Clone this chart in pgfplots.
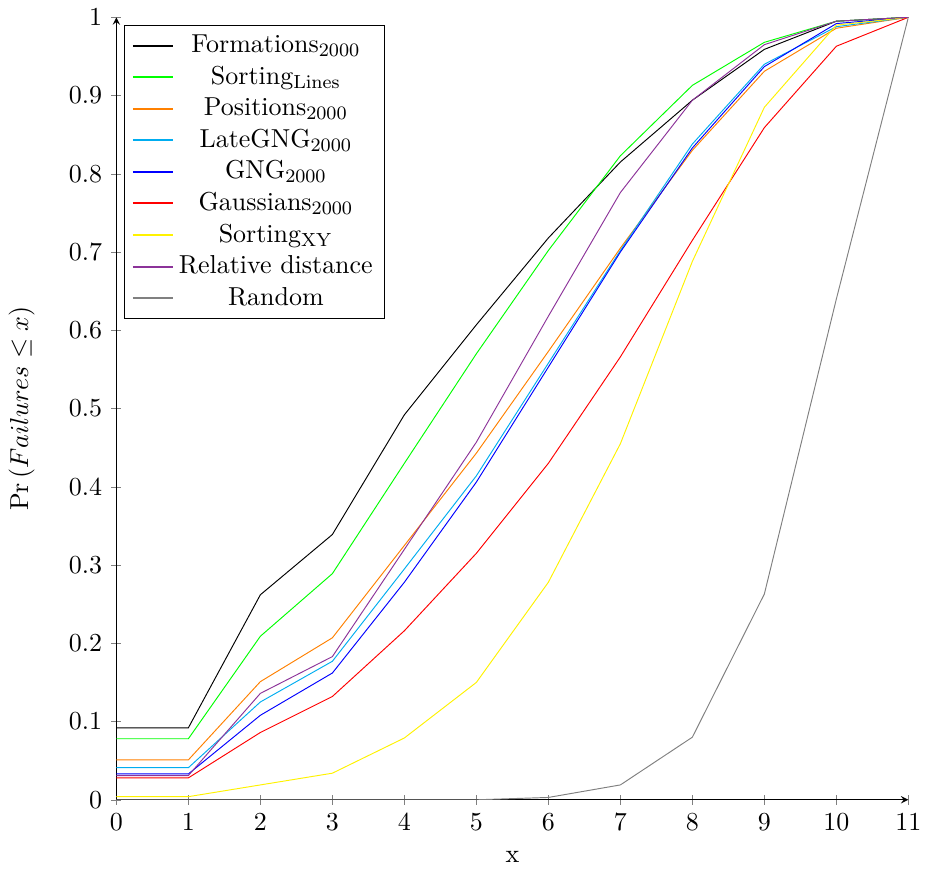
\documentclass[border=0pt,11pt]{standalone}
\usepackage{pgfplots}
\pgfplotsset{compat=1.18}
\definecolor{mycyan}{rgb}{0,0.68,0.94}
\definecolor{mypurple}{rgb}{0.55,0.2,0.6}
\begin{document}
\begin{tikzpicture}
\begin{axis}[
  width=334pt, height=330pt, scale only axis,
  axis lines=left,
  xmin=0, xmax=11, ymin=0, ymax=1,
  xtick={0,1,...,11},
  ytick={0,0.1,...,1},
  yticklabels={0,0.1,0.2,0.3,0.4,0.5,0.6,0.7,0.8,0.9,1},
  xlabel={x\rule[-3pt]{0pt}{3pt}},
  xlabel style={yshift=-1pt},
  ylabel={$\Pr\left(Failures \leq x\right)$},
  ylabel style={yshift=7pt},
  legend cell align=center,
  legend style={at={(0.01,0.99)}, anchor=north west},
  legend image post style={line width=0.8pt},
  every axis plot/.append style={no marks},
]
\addplot[black] coordinates {(0,0.092)(1,0.092)(2,0.262)(3,0.339)(4,0.492)(5,0.607)(6,0.718)(7,0.815)(8,0.894)(9,0.959)(10,0.995)(11,1)};
\addlegendentry{Formations$_{2000}$}
\addplot[green] coordinates {(0,0.078)(1,0.078)(2,0.209)(3,0.289)(4,0.430)(5,0.570)(6,0.702)(7,0.823)(8,0.913)(9,0.968)(10,0.995)(11,1)};
\addlegendentry{Sorting$_{\mathrm{Lines}}$}
\addplot[orange] coordinates {(0,0.051)(1,0.051)(2,0.151)(3,0.207)(4,0.325)(5,0.443)(6,0.573)(7,0.705)(8,0.830)(9,0.931)(10,0.986)(11,1)};
\addlegendentry{Positions$_{2000}$}
\addplot[mycyan] coordinates {(0,0.041)(1,0.041)(2,0.125)(3,0.177)(4,0.295)(5,0.414)(6,0.558)(7,0.702)(8,0.838)(9,0.940)(10,0.988)(11,1)};
\addlegendentry{LateGNG$_{2000}$}
\addplot[blue] coordinates {(0,0.033)(1,0.033)(2,0.108)(3,0.162)(4,0.278)(5,0.406)(6,0.553)(7,0.700)(8,0.833)(9,0.937)(10,0.992)(11,1)};
\addlegendentry{GNG$_{2000}$}
\addplot[red] coordinates {(0,0.028)(1,0.028)(2,0.086)(3,0.132)(4,0.216)(5,0.315)(6,0.430)(7,0.566)(8,0.715)(9,0.859)(10,0.963)(11,1)};
\addlegendentry{Gaussians$_{2000}$}
\addplot[yellow] coordinates {(0,0.004)(1,0.004)(2,0.019)(3,0.034)(4,0.079)(5,0.150)(6,0.278)(7,0.455)(8,0.688)(9,0.885)(10,0.990)(11,1)};
\addlegendentry{Sorting$_{\mathrm{XY}}$}
\addplot[mypurple] coordinates {(0,0.031)(1,0.031)(2,0.136)(3,0.183)(4,0.320)(5,0.457)(6,0.618)(7,0.776)(8,0.894)(9,0.965)(10,0.995)(11,1)};
\addlegendentry{Relative distance}
\addplot[gray] coordinates {(0,0)(1,0)(2,0)(3,0)(4,0)(5,0)(6,0.003)(7,0.019)(8,0.080)(9,0.263)(10,0.640)(11,1)};
\addlegendentry{Random}
\end{axis}
\end{tikzpicture}
\end{document}
